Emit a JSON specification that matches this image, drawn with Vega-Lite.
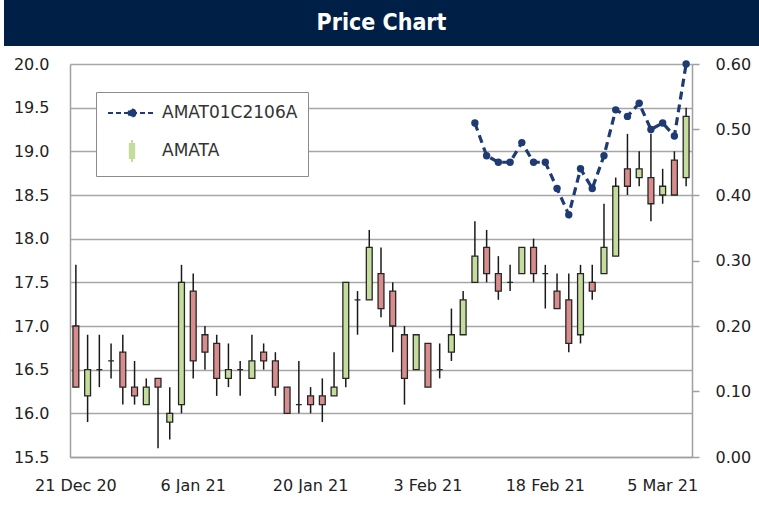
{
  "$schema": "https://vega.github.io/schema/vega-lite/v6.json",
  "padding": {"left": 4, "right": 0, "top": 0, "bottom": 0},
  "background": "white",
  "config": {
    "view": {"stroke": null},
    "concat": {"spacing": 0},
    "axis": {"labelFont": "DejaVu Sans", "labelFontSize": 16, "labelColor": "#222222", "title": null}
  },
  "datasets": {
    "ohlc": [
      {"date": "2020-12-21", "open": 17.0, "high": 17.7, "low": 16.3, "close": 16.3},
      {"date": "2020-12-22", "open": 16.2, "high": 16.9, "low": 15.9, "close": 16.5},
      {"date": "2020-12-23", "open": 16.5, "high": 16.9, "low": 16.3, "close": 16.5},
      {"date": "2020-12-24", "open": 16.6, "high": 16.8, "low": 16.4, "close": 16.6},
      {"date": "2020-12-25", "open": 16.7, "high": 16.9, "low": 16.1, "close": 16.3},
      {"date": "2020-12-28", "open": 16.3, "high": 16.6, "low": 16.1, "close": 16.2},
      {"date": "2020-12-29", "open": 16.1, "high": 16.4, "low": 16.1, "close": 16.3},
      {"date": "2020-12-30", "open": 16.4, "high": 16.4, "low": 15.6, "close": 16.3},
      {"date": "2021-01-04", "open": 15.9, "high": 16.3, "low": 15.7, "close": 16.0},
      {"date": "2021-01-05", "open": 16.1, "high": 17.7, "low": 16.0, "close": 17.5},
      {"date": "2021-01-06", "open": 17.4, "high": 17.6, "low": 16.4, "close": 16.6},
      {"date": "2021-01-07", "open": 16.9, "high": 17.0, "low": 16.5, "close": 16.7},
      {"date": "2021-01-08", "open": 16.8, "high": 16.9, "low": 16.2, "close": 16.4},
      {"date": "2021-01-11", "open": 16.4, "high": 16.8, "low": 16.3, "close": 16.5},
      {"date": "2021-01-12", "open": 16.5, "high": 16.6, "low": 16.2, "close": 16.5},
      {"date": "2021-01-13", "open": 16.4, "high": 16.9, "low": 16.4, "close": 16.6},
      {"date": "2021-01-14", "open": 16.7, "high": 16.8, "low": 16.5, "close": 16.6},
      {"date": "2021-01-15", "open": 16.6, "high": 16.7, "low": 16.2, "close": 16.3},
      {"date": "2021-01-18", "open": 16.3, "high": 16.3, "low": 16.0, "close": 16.0},
      {"date": "2021-01-19", "open": 16.1, "high": 16.6, "low": 16.0, "close": 16.1},
      {"date": "2021-01-20", "open": 16.2, "high": 16.3, "low": 16.0, "close": 16.1},
      {"date": "2021-01-21", "open": 16.2, "high": 16.4, "low": 15.9, "close": 16.1},
      {"date": "2021-01-22", "open": 16.2, "high": 16.7, "low": 16.2, "close": 16.3},
      {"date": "2021-01-25", "open": 16.4, "high": 17.5, "low": 16.3, "close": 17.5},
      {"date": "2021-01-26", "open": 17.3, "high": 17.4, "low": 16.9, "close": 17.3},
      {"date": "2021-01-27", "open": 17.3, "high": 18.1, "low": 17.3, "close": 17.9},
      {"date": "2021-01-28", "open": 17.6, "high": 17.9, "low": 17.1, "close": 17.2},
      {"date": "2021-01-29", "open": 17.4, "high": 17.5, "low": 16.7, "close": 17.0},
      {"date": "2021-02-01", "open": 16.9, "high": 17.0, "low": 16.1, "close": 16.4},
      {"date": "2021-02-02", "open": 16.5, "high": 16.9, "low": 16.5, "close": 16.9},
      {"date": "2021-02-03", "open": 16.8, "high": 16.8, "low": 16.3, "close": 16.3},
      {"date": "2021-02-04", "open": 16.5, "high": 16.8, "low": 16.4, "close": 16.5},
      {"date": "2021-02-05", "open": 16.7, "high": 17.2, "low": 16.6, "close": 16.9},
      {"date": "2021-02-08", "open": 16.9, "high": 17.4, "low": 16.9, "close": 17.3},
      {"date": "2021-02-09", "open": 17.5, "high": 18.2, "low": 17.5, "close": 17.8},
      {"date": "2021-02-10", "open": 17.9, "high": 18.1, "low": 17.5, "close": 17.6},
      {"date": "2021-02-11", "open": 17.6, "high": 17.8, "low": 17.3, "close": 17.4},
      {"date": "2021-02-15", "open": 17.5, "high": 17.7, "low": 17.4, "close": 17.5},
      {"date": "2021-02-16", "open": 17.6, "high": 17.9, "low": 17.6, "close": 17.9},
      {"date": "2021-02-17", "open": 17.9, "high": 18.0, "low": 17.5, "close": 17.6},
      {"date": "2021-02-18", "open": 17.6, "high": 17.7, "low": 17.2, "close": 17.6},
      {"date": "2021-02-19", "open": 17.4, "high": 17.6, "low": 17.2, "close": 17.2},
      {"date": "2021-02-22", "open": 17.3, "high": 17.6, "low": 16.7, "close": 16.8},
      {"date": "2021-02-23", "open": 16.9, "high": 17.7, "low": 16.8, "close": 17.6},
      {"date": "2021-02-24", "open": 17.5, "high": 17.7, "low": 17.3, "close": 17.4},
      {"date": "2021-02-25", "open": 17.6, "high": 18.4, "low": 17.6, "close": 17.9},
      {"date": "2021-03-01", "open": 17.8, "high": 18.7, "low": 17.8, "close": 18.6},
      {"date": "2021-03-02", "open": 18.8, "high": 19.2, "low": 18.5, "close": 18.6},
      {"date": "2021-03-03", "open": 18.7, "high": 19.0, "low": 18.6, "close": 18.8},
      {"date": "2021-03-04", "open": 18.7, "high": 19.2, "low": 18.2, "close": 18.4},
      {"date": "2021-03-05", "open": 18.5, "high": 18.8, "low": 18.4, "close": 18.6},
      {"date": "2021-03-08", "open": 18.9, "high": 19.0, "low": 18.5, "close": 18.5},
      {"date": "2021-03-09", "open": 18.7, "high": 19.5, "low": 18.6, "close": 19.4}
    ],
    "dw": [
      {"date": "2021-02-09", "series": "AMAT01C2106A", "price": 0.51},
      {"date": "2021-02-10", "series": "AMAT01C2106A", "price": 0.46},
      {"date": "2021-02-11", "series": "AMAT01C2106A", "price": 0.45},
      {"date": "2021-02-15", "series": "AMAT01C2106A", "price": 0.45},
      {"date": "2021-02-16", "series": "AMAT01C2106A", "price": 0.48},
      {"date": "2021-02-17", "series": "AMAT01C2106A", "price": 0.45},
      {"date": "2021-02-18", "series": "AMAT01C2106A", "price": 0.45},
      {"date": "2021-02-19", "series": "AMAT01C2106A", "price": 0.41},
      {"date": "2021-02-22", "series": "AMAT01C2106A", "price": 0.37},
      {"date": "2021-02-23", "series": "AMAT01C2106A", "price": 0.44},
      {"date": "2021-02-24", "series": "AMAT01C2106A", "price": 0.41},
      {"date": "2021-02-25", "series": "AMAT01C2106A", "price": 0.46},
      {"date": "2021-03-01", "series": "AMAT01C2106A", "price": 0.53},
      {"date": "2021-03-02", "series": "AMAT01C2106A", "price": 0.52},
      {"date": "2021-03-03", "series": "AMAT01C2106A", "price": 0.54},
      {"date": "2021-03-04", "series": "AMAT01C2106A", "price": 0.50},
      {"date": "2021-03-05", "series": "AMAT01C2106A", "price": 0.51},
      {"date": "2021-03-08", "series": "AMAT01C2106A", "price": 0.49},
      {"date": "2021-03-09", "series": "AMAT01C2106A", "price": 0.60}
    ]
  },
  "vconcat": [
    {
      "width": 755,
      "height": 46,
      "view": {"fill": "#001f47", "stroke": null},
      "data": {"values": [{"title": "Price Chart"}]},
      "mark": {"type": "text", "color": "white", "font": "DejaVu Sans Condensed", "fontWeight": "bold", "fontSize": 23, "align": "center", "baseline": "middle"},
      "encoding": {"text": {"field": "title", "type": "nominal"}}
    },
    {
      "hconcat": [
        {
          "width": 6,
          "height": 1,
          "data": {"values": []},
          "mark": "point"
        },
        {
          "width": 622,
          "height": 393,
          "layer": [
            {
              "data": {"name": "ohlc"},
              "encoding": {
                "x": {
                  "field": "date", "type": "ordinal",
                  "scale": {"type": "band", "paddingInner": 0.5, "paddingOuter": 0.25},
                  "axis": {
                    "values": ["2020-12-21", "2021-01-06", "2021-01-20", "2021-02-03", "2021-02-18", "2021-03-05"],
                    "labelExpr": "utcFormat(toDate(datum.value), '%-d %b %y')",
                    "labelAngle": 0, "ticks": false, "tickSize": 0, "labelPadding": 20,
                    "domainColor": "#a0a0a0", "domainWidth": 1.5, "grid": false
                  }
                }
              },
              "layer": [
                {
                  "mark": {"type": "rule", "color": "#1a1a1a", "strokeWidth": 1.5},
                  "encoding": {
                    "y": {
                      "field": "low", "type": "quantitative",
                      "scale": {"domain": [15.5, 20], "nice": false, "zero": false},
                      "axis": {
                        "orient": "left", "values": [15.5, 16, 16.5, 17, 17.5, 18, 18.5, 19, 19.5, 20],
                        "format": ".1f", "grid": true, "gridColor": "#a6a6a6", "gridWidth": 1.5,
                        "ticks": false, "tickSize": 0, "labelPadding": 21,
                        "domainColor": "#a0a0a0", "domainWidth": 1.5,
                        "minExtent": 60, "maxExtent": 60
                      }
                    },
                    "y2": {"field": "high"}
                  }
                },
                {
                  "mark": {"type": "bar", "stroke": "#262626", "strokeWidth": 1.3},
                  "encoding": {
                    "y": {"field": "open", "type": "quantitative"},
                    "y2": {"field": "close"},
                    "fill": {
                      "condition": {"test": "datum.close >= datum.open", "value": "#c4dc9c"},
                      "value": "#d88c8c"
                    }
                  }
                }
              ]
            },
            {
              "data": {"name": "dw"},
              "mark": {"type": "line", "strokeDash": [8, 5], "strokeWidth": 3.2, "point": {"filled": true, "size": 55}},
              "encoding": {
                "x": {"field": "date", "type": "ordinal"},
                "y": {
                  "field": "price", "type": "quantitative",
                  "scale": {"domain": [0, 0.6], "nice": false, "zero": true},
                  "axis": {
                    "orient": "right", "values": [0, 0.1, 0.2, 0.3, 0.4, 0.5, 0.6],
                    "format": ".2f", "grid": false, "ticks": true, "tickSize": 7,
                    "tickColor": "#a0a0a0", "tickWidth": 1.5, "labelPadding": 16,
                    "domainColor": "#a0a0a0", "domainWidth": 1.5
                  }
                },
                "color": {
                  "field": "series", "type": "nominal",
                  "scale": {"domain": ["AMAT01C2106A", "AMATA"], "range": ["#1f3b73", "#c4dc9c"]},
                  "legend": {
                    "orient": "none", "legendX": 92, "legendY": 92,
                    "title": null, "fillColor": "white", "strokeColor": "#8c8c8c",
                    "padding": 10, "rowPadding": 15, "labelOffset": 34,
                    "symbolSize": 400,
                    "labelFont": "DejaVu Sans", "labelFontSize": 17, "labelColor": "#333333",
                    "encode": {
                      "symbols": {
                        "update": {
                          "shape": [
                            {"test": "datum.value === 'AMATA'", "value": "M1.5,-1.1L1.5,-0.7M1.5,0.7L1.5,1.1M1.28,-0.7L1.72,-0.7L1.72,0.7L1.28,0.7Z"},
                            {"value": "M-0.9,0L3.9,0M1.85,0A0.35,0.35 0 1,1 1.15,0A0.35,0.35 0 1,1 1.85,0"}
                          ],
                          "fill": [
                            {"test": "datum.value === 'AMATA'", "value": "#c4dc9c"},
                            {"value": "#1f3b73"}
                          ],
                          "stroke": [
                            {"test": "datum.value === 'AMATA'", "value": "#a8a8a8"},
                            {"value": "#1f3b73"}
                          ],
                          "strokeDash": [
                            {"test": "datum.value === 'AMATA'", "value": []},
                            {"value": [5, 3]}
                          ],
                          "strokeWidth": {"value": 2},
                          "opacity": {"value": 1},
                          "fillOpacity": {"value": 1},
                          "size": {"value": 400}
                        }
                      }
                    }
                  }
                }
              }
            }
          ],
          "resolve": {"scale": {"y": "independent"}}
        }
      ]
    }
  ],
  "spacing": 10
}
